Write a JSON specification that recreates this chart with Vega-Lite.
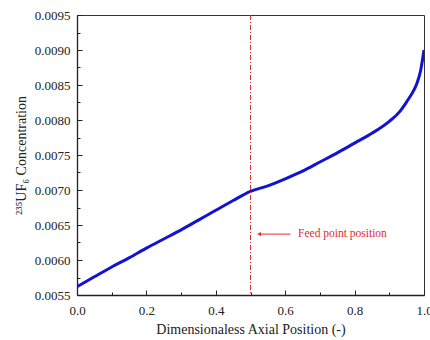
{
  "$schema": "https://vega.github.io/schema/vega-lite/v6.json",
  "width": 347,
  "height": 280,
  "autosize": "none",
  "padding": {"left": 77, "top": 15, "right": 6, "bottom": 45},
  "background": "white",
  "config": {
    "view": {"stroke": "#333", "strokeWidth": 1},
    "font": "Times New Roman, Liberation Serif, serif",
    "axis": {"grid": false, "domainColor": "#222", "domainWidth": 1.3, "tickColor": "#222", "labelFont": "Times New Roman, Liberation Serif, serif", "titleFont": "Times New Roman, Liberation Serif, serif", "labelFontSize": 13, "titleFontSize": 14, "titleFontWeight": "normal", "labelColor": "#222", "titleColor": "#222"}
  },
  "datasets": {
    "curve": [
      {"x": 0.0, "c": 0.00562},
      {"x": 0.05, "c": 0.00576},
      {"x": 0.1, "c": 0.0059},
      {"x": 0.15, "c": 0.00603},
      {"x": 0.2, "c": 0.00617},
      {"x": 0.25, "c": 0.0063},
      {"x": 0.3, "c": 0.00643},
      {"x": 0.35, "c": 0.00657},
      {"x": 0.4, "c": 0.00671},
      {"x": 0.45, "c": 0.00685},
      {"x": 0.5, "c": 0.00698},
      {"x": 0.55, "c": 0.00706},
      {"x": 0.6, "c": 0.00716},
      {"x": 0.65, "c": 0.00727},
      {"x": 0.7, "c": 0.0074},
      {"x": 0.75, "c": 0.00753},
      {"x": 0.8, "c": 0.00767},
      {"x": 0.85, "c": 0.00781},
      {"x": 0.9, "c": 0.00798},
      {"x": 0.93, "c": 0.00812},
      {"x": 0.95, "c": 0.00826},
      {"x": 0.97, "c": 0.00842},
      {"x": 0.98, "c": 0.00853},
      {"x": 0.99, "c": 0.0087},
      {"x": 1.0, "c": 0.009}
    ],
    "feed": [{"x": 0.5}],
    "note": [{"x": 0.525, "x2": 0.615, "c": 0.00637, "tx": 0.637, "label": "Feed point position"}]
  },
  "layer": [
    {
      "data": {"name": "curve"},
      "mark": {"type": "line", "color": "#1212d4", "strokeWidth": 3, "interpolate": "monotone", "clip": true},
      "encoding": {
        "x": {"field": "x", "type": "quantitative", "scale": {"domain": [0, 1], "nice": false, "zero": false},
          "axis": {"title": "Dimensionaless Axial Position (-)", "values": [0, 0.2, 0.4, 0.6, 0.8, 1.0], "format": ".1f", "tickSize": -5, "labelPadding": 14, "titlePadding": 5, "labelFlush": false}},
        "y": {"field": "c", "type": "quantitative", "scale": {"domain": [0.0055, 0.0095], "nice": false, "zero": false},
          "axis": {"title": "²³⁵UF₆ Concentration", "values": [0.0055, 0.006, 0.0065, 0.007, 0.0075, 0.008, 0.0085, 0.009, 0.0095], "format": ".4f", "tickSize": -5, "labelPadding": 12, "titlePadding": 6, "labelFlush": false}}
      }
    },
    {
      "data": {"name": "curve"},
      "mark": {"type": "line", "strokeOpacity": 0},
      "encoding": {
        "x": {"field": "x", "type": "quantitative",
          "axis": {"orient": "bottom", "title": null, "labels": false, "domain": false, "values": [0.1, 0.3, 0.5, 0.7, 0.9], "tickSize": -3}},
        "y": {"field": "c", "type": "quantitative",
          "axis": {"orient": "left", "title": null, "labels": false, "domain": false, "values": [0.00575, 0.00625, 0.00675, 0.00725, 0.00775, 0.00825, 0.00875, 0.00925], "tickSize": -3}}
      }
    },
    {
      "data": {"name": "feed"},
      "mark": {"type": "rule", "color": "#e02a30", "strokeWidth": 1, "strokeDash": [5, 2, 1, 2]},
      "encoding": {
        "x": {"field": "x", "type": "quantitative", "axis": null}
      }
    },
    {
      "data": {"name": "note"},
      "mark": {"type": "rule", "color": "#e02a30", "strokeWidth": 1},
      "encoding": {
        "x": {"field": "x", "type": "quantitative", "axis": null},
        "x2": {"field": "x2"},
        "y": {"field": "c", "type": "quantitative", "axis": null}
      }
    },
    {
      "data": {"name": "note"},
      "mark": {"type": "point", "shape": "triangle-left", "filled": true, "color": "#e02a30", "size": 18, "opacity": 1},
      "encoding": {
        "x": {"field": "x", "type": "quantitative", "axis": null},
        "y": {"field": "c", "type": "quantitative", "axis": null}
      }
    },
    {
      "data": {"name": "note"},
      "mark": {"type": "text", "color": "#e02a30", "align": "left", "baseline": "middle", "font": "Times New Roman, Liberation Serif, serif", "fontSize": 11.5},
      "encoding": {
        "x": {"field": "tx", "type": "quantitative", "axis": null},
        "y": {"field": "c", "type": "quantitative", "axis": null},
        "text": {"field": "label"}
      }
    }
  ],
  "resolve": {"axis": {"x": "independent", "y": "independent"}}
}
